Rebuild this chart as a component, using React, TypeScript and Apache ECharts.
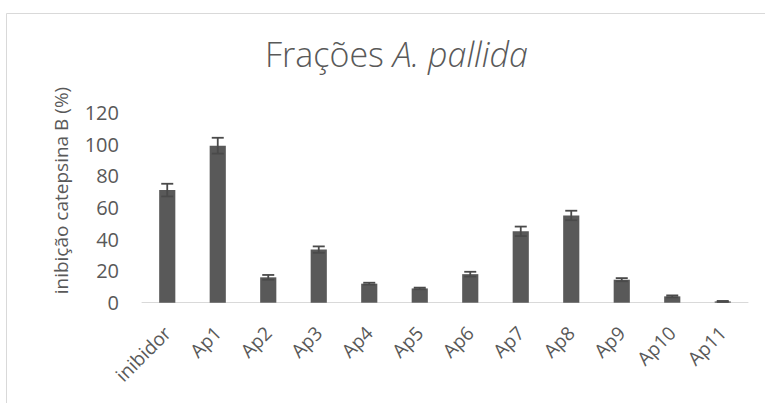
import React, { useEffect, useRef } from "react";
import * as echarts from "echarts";

const categories = ["inibidor", "Ap1", "Ap2", "Ap3", "Ap4", "Ap5", "Ap6", "Ap7", "Ap8", "Ap9", "Ap10", "Ap11"];
const values = [71, 99, 16, 33.5, 12, 9, 18, 45, 55, 14.5, 4, 0.8];
const errors = [4, 5, 1.5, 2, 0.6, 0.5, 1.5, 3, 3, 1, 0.6, 0.3];
const yTicks = [0, 20, 40, 60, 80, 100, 120];

const FONT = "'Open Sans', 'Noto Sans', sans-serif";
const GRAY = "#595959";

export default function App() {
  const ref = useRef<HTMLDivElement>(null);
  useEffect(() => {
    if (!ref.current) return;
    const chart = echarts.init(ref.current, undefined, { renderer: "svg" });
    const errData = categories.map((c, i) => [i, values[i] - errors[i], values[i] + errors[i]]);
    chart.setOption({
      animation: false,
      backgroundColor: "#ffffff",
      graphic: [
        {
          type: "rect",
          shape: { x: 6.5, y: 13.5, width: 800, height: 500 },
          style: { fill: "none", stroke: "#d9d9d9", lineWidth: 1 },
          silent: true,
        },
      ],
      title: {
        text: "{n|Frações }{i|A. pallida}",
        left: 260,
        top: 32,
        textStyle: {
          rich: {
            n: { fontFamily: FONT, fontSize: 34, color: GRAY, fontWeight: 300 },
            i: { fontFamily: FONT, fontSize: 34, color: GRAY, fontStyle: "italic", fontWeight: 300 },
          },
        },
      },
      grid: { left: 142, right: 17, top: 112.4, bottom: 100.3, containLabel: false },
      xAxis: {
        type: "category",
        data: categories,
        axisLine: { lineStyle: { color: "#d9d9d9", width: 1 } },
        axisTick: { show: false },
        axisLabel: {
          rotate: 45,
          interval: 0,
          margin: 27,
          color: GRAY,
          fontSize: 19,
          fontFamily: FONT,
        },
      },
      yAxis: {
        type: "value",
        min: yTicks[0],
        max: yTicks[yTicks.length - 1],
        interval: 20,
        name: "inibição catepsina B (%)",
        nameLocation: "middle",
        nameGap: 72,
        nameTextStyle: { color: GRAY, fontSize: 19, fontFamily: FONT, padding: [0, 0, 0, 34] },
        axisLine: { show: false },
        axisTick: { show: false },
        splitLine: { show: false },
        axisLabel: { color: GRAY, fontSize: 20, fontFamily: FONT, margin: 23 },
      },
      series: [
        {
          type: "bar",
          data: values,
          barWidth: "32%",
          itemStyle: { color: GRAY },
        },
        {
          type: "custom",
          data: errData,
          z: 5,
          renderItem: (params: any, api: any) => {
            const x = api.value(0);
            const lo = api.coord([x, api.value(1)]);
            const hi = api.coord([x, api.value(2)]);
            const half = 6;
            const style = { stroke: "#4a4a4a", lineWidth: 1.8 };
            return {
              type: "group",
              children: [
                { type: "line", shape: { x1: hi[0], y1: hi[1], x2: lo[0], y2: lo[1] }, style },
                { type: "line", shape: { x1: hi[0] - half, y1: hi[1], x2: hi[0] + half, y2: hi[1] }, style },
                { type: "line", shape: { x1: lo[0] - half, y1: lo[1], x2: lo[0] + half, y2: lo[1] }, style },
              ],
            };
          },
        },
      ],
    });
    return () => chart.dispose();
  }, []);
  return (
    <div
      ref={ref}
      style={{ width: 765, height: 403, position: "fixed", left: 0, top: 0 }}
    />
  );
}
